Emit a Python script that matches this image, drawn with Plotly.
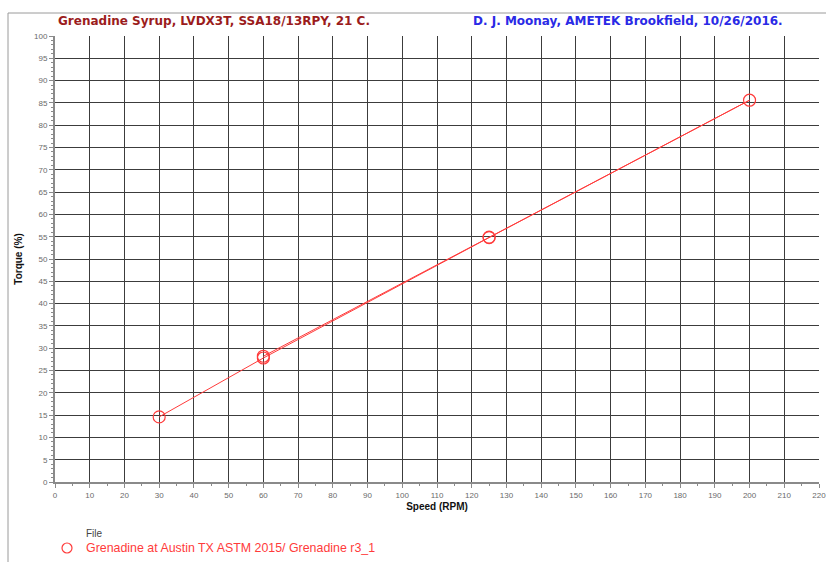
import plotly.graph_objects as go

# Speed sweep (RPM) and measured torque (%), up then back down
speed_rpm = [30, 60, 125, 200, 125, 60]
torque_pct = [14.6, 27.8, 54.8, 85.6, 54.9, 28.2]

x_ticks = list(range(0, 221, 10))
y_ticks = list(range(0, 101, 5))

series_name = "Grenadine at Austin TX ASTM 2015/ Grenadine r3_1"
title_left = "Grenadine Syrup, LVDX3T, SSA18/13RPY, 21 C."
title_right = "D. J. Moonay, AMETEK Brookfield, 10/26/2016."

red = "#ff3b3b"

fig = go.Figure()
fig.add_trace(go.Scatter(
    x=speed_rpm, y=torque_pct, mode="lines+markers",
    name=series_name,
    line=dict(color=red, width=1),
    marker=dict(symbol="circle-open", size=12, color=red, line=dict(width=1.2, color=red)),
    showlegend=False,
))

axis_common = dict(
    showline=True, linecolor="#8a8a8a", linewidth=2, mirror=False,
    showgrid=True, gridcolor="#3c3c3c", gridwidth=1, zeroline=False,
    ticks="outside", tickcolor="#8a8a8a", ticklen=4,
    ticklabeloverflow="allow", automargin=False,
    tickfont=dict(family="Liberation Sans, Arial", size=8, color="#6a6a6a"),
)

fig.update_xaxes(
    range=[0, 220], tickvals=x_ticks, ticktext=[str(v) for v in x_ticks],
    minor=dict(dtick=5, ticks="outside", ticklen=2, tickcolor="#8a8a8a", showgrid=False),
    title=dict(text="<b>Speed (RPM)</b>", font=dict(family="Liberation Sans, Arial", size=10, color="#111"), standoff=4),
    **axis_common,
)
fig.update_yaxes(
    range=[0, 100], tickvals=y_ticks, ticktext=[str(v) for v in y_ticks],
    minor=dict(dtick=1, ticks="outside", ticklen=2, tickcolor="#8a8a8a", showgrid=False),
    title=dict(text="<b>Torque (%)</b>", font=dict(family="Liberation Sans, Arial", size=10, color="#111"), standoff=10),
    **axis_common,
)

W, H = 826, 562
ML, MR, MT, MB = 55, 7, 36, 80
pw, ph = W - ML - MR, H - MT - MB


def px_to_paper(x, y):
    return (x - ML) / pw, 1 - (y - MT) / ph


def label(text, x, y, size, color, xanchor, family="Liberation Sans, Arial"):
    px, py = px_to_paper(x, y)
    return dict(text=text, x=px, y=py, xref="paper", yref="paper",
                xanchor=xanchor, yanchor="middle", showarrow=False,
                font=dict(family=family, size=size, color=color))


annotations = [
    label("<b>" + title_left + "</b>", 214, 21, 12, "#9b1c1c", "center", "DejaVu Sans"),
    label("<b>" + title_right + "</b>", 628, 21, 12, "#2a2ae6", "center", "DejaVu Sans"),
    label("File", 84, 533, 10, "#444", "left"),
    label(series_name, 84, 548, 12.4, red, "left"),
]

shapes = []
# outer frame
x0, y0 = px_to_paper(8, 13)
x1, y1 = px_to_paper(830, 570)
shapes.append(dict(type="rect", xref="paper", yref="paper", x0=x0, y0=y1, x1=x1, y1=y0,
                   line=dict(color="#9a9a9a", width=1), layer="below"))
# legend symbol
lx, ly = px_to_paper(67, 548)
shapes.append(dict(type="circle", xref="paper", yref="paper", xsizemode="pixel", ysizemode="pixel",
                   xanchor=lx, yanchor=ly, x0=-5, x1=5, y0=-5, y1=5,
                   line=dict(color=red, width=1.2)))

fig.update_layout(
    width=W, height=H, margin=dict(l=ML, r=MR, t=MT, b=MB, autoexpand=False),
    paper_bgcolor="white", plot_bgcolor="white",
    annotations=annotations, shapes=shapes,
    showlegend=False,
)

fig.write_html("out.html")
